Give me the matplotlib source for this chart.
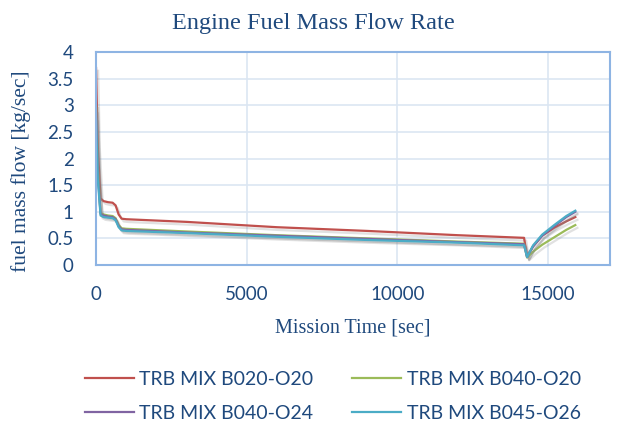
import numpy as np
import matplotlib
matplotlib.use("Agg")
import matplotlib.pyplot as plt
import matplotlib.patheffects as pe

# mission time points [sec]
t = [0, 60, 150, 250, 400, 550, 650, 750, 850, 1000, 3000, 6000, 9000, 12000,
     14200, 14300, 14500, 14800, 15200, 15600, 15900]

b020_o20 = [3.7, 2.2, 1.25, 1.2, 1.18, 1.17, 1.12, 0.95, 0.87, 0.86, 0.81, 0.71,
            0.64, 0.56, 0.51, 0.16, 0.35, 0.55, 0.70, 0.82, 0.90]
b040_o20 = [3.0, 1.8, 0.98, 0.95, 0.93, 0.92, 0.88, 0.75, 0.69, 0.68, 0.63, 0.56,
            0.50, 0.44, 0.40, 0.14, 0.25, 0.38, 0.52, 0.66, 0.75]
b040_o24 = [2.9, 1.7, 0.96, 0.93, 0.91, 0.90, 0.86, 0.73, 0.67, 0.66, 0.61, 0.55,
            0.49, 0.43, 0.39, 0.15, 0.35, 0.55, 0.73, 0.90, 1.00]
b045_o26 = [2.75, 1.6, 0.93, 0.90, 0.89, 0.88, 0.84, 0.71, 0.65, 0.64, 0.60, 0.53,
            0.47, 0.42, 0.37, 0.15, 0.37, 0.57, 0.75, 0.92, 1.02]

labels = ["TRB MIX B020-O20", "TRB MIX B040-O20", "TRB MIX B040-O24", "TRB MIX B045-O26"]
colors = ["#c0504d", "#9bbb59", "#8064a2", "#4bacc6"]
txt = "#1f497d"

fig = plt.figure(figsize=(6.26, 4.34), dpi=100)
ax = fig.add_axes([0.1534, 0.3894, 0.8210, 0.4906])

shadow = [pe.SimpleLineShadow(offset=(1.5, -2), shadow_color="#888888", alpha=0.25), pe.Normal()]
lines = []
for y, lab, c in zip([b020_o20, b040_o20, b040_o24, b045_o26], labels, colors):
    ln, = ax.plot(t, y, color=c, lw=1.6, label=lab, path_effects=shadow)
    lines.append(ln)

ax.set_xlim(0, 17050)
ax.set_ylim(0, 4)
ax.set_xticks([0, 5000, 10000, 15000])
ax.set_yticks(np.arange(0, 4.01, 0.5))
ax.set_yticklabels(["0", "0.5", "1", "1.5", "2", "2.5", "3", "3.5", "4"])
ax.grid(True, color="#dce6f2", lw=1.2)
ax.set_axisbelow(True)
for s in ax.spines.values():
    s.set_color("#8eb4e3")
    s.set_linewidth(1.5)
ax.tick_params(length=0, labelsize=13.5, labelcolor=txt)
ax.tick_params(axis="x", pad=15)
ax.tick_params(axis="y", pad=16)
for lb in ax.get_xticklabels() + ax.get_yticklabels():
    lb.set_family("Lato")

ax.set_xlabel("Mission Time [sec]", family="Liberation Serif", fontsize=14.5, color=txt, labelpad=11)
ax.set_ylabel("fuel mass flow [kg/sec]", family="Liberation Serif", fontsize=15.5, color=txt)
ax.yaxis.set_label_coords(-0.127, 0.44)
fig.text(0.5, 0.945, "Engine Fuel Mass Flow Rate", ha="center", va="center",
         family="Liberation Serif", fontsize=17.5, color=txt)

# row-wise order like the original legend
order = [0, 2, 1, 3]
leg = fig.legend(handles=[lines[i] for i in order], ncol=2, loc="center",
                 bbox_to_anchor=(0.532, 0.087), frameon=False, handlelength=2.5,
                 columnspacing=2.0, handletextpad=0.3, labelspacing=0.85,
                 prop={"family": "Lato", "size": 14})
for tx in leg.get_texts():
    tx.set_color(txt)
for h in leg.legend_handles:
    h.set_path_effects([])

fig.savefig("out.png", dpi=100)
